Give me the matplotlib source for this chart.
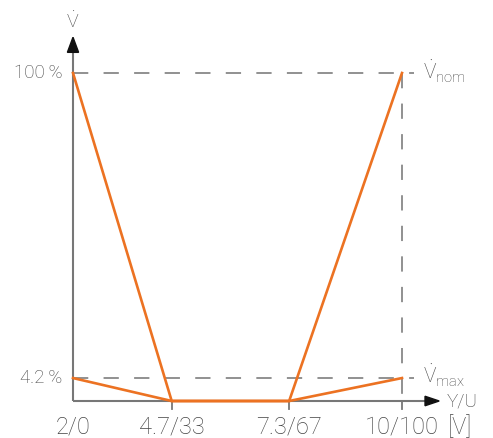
import matplotlib
matplotlib.use("Agg")
import matplotlib.pyplot as plt
from matplotlib.patches import Polygon

plt.rcParams['font.family'] = ['Roboto', 'DejaVu Sans']
plt.rcParams['lines.scale_dashes'] = False
plt.rcParams['mathtext.fontset'] = 'custom'
plt.rcParams['mathtext.rm'] = 'Roboto:light'
plt.rcParams['mathtext.it'] = 'Roboto:light'

# data
x_labels = ['2/0', '4.7/33', '7.3/67', '10/100']
x_pos = [0, 30, 65.7, 100]
nominal = [100, 0, 0, 100]
maximum = [7, 0, 0, 7]
y_tick_pos = [100, 7]
y_tick_labels = ['100\u2009%', '4.2\u2009%']

W, H = 493, 438
fig = plt.figure(figsize=(W / 100, H / 100), dpi=100)
ax = fig.add_axes([0, 0, 1, 1])
sx = 3.29
sy = 3.28
x0px, y0px = 73, 401  # pixel location of data origin (from top)
ax.set_xlim(-x0px / sx, (W - x0px) / sx)
ax.set_ylim(-(H - y0px) / sy, y0px / sy)
ax.axis('off')

gray = '#777777'
dgray = '#888888'
txt = '#444444'
orange = '#EC7222'

# dashed guide lines
ax.plot([0, 103.6], [100, 100], color=dgray, lw=1.3, dashes=(11, 11), zorder=1)
ax.plot([0, 103.6], [7, 7], color=dgray, lw=1.3, dashes=(11, 11), zorder=1)
ax.plot([100, 100], [100, 0], color=dgray, lw=1.3, dashes=(11, 11), zorder=1)

# axes lines
ax.plot([0, 0], [0, 106.5], color=gray, lw=1.5, zorder=2, solid_capstyle='butt')
ax.plot([0, 107.5], [0, 0], color=gray, lw=1.5, zorder=2, solid_capstyle='butt')
# ticks
for xp in x_pos[1:]:
    ax.plot([xp, xp], [0, -2.4], color=gray, lw=1.3, zorder=2)

# arrowheads
ax.add_patch(Polygon([[-1.7, 106.3], [1.7, 106.3], [0, 110.9]], closed=True,
                     color='#111111', zorder=3))
ax.add_patch(Polygon([[107.0, 1.45], [107.0, -1.45], [111.3, 0]], closed=True,
                     color='#111111', zorder=3))

# data lines
ax.plot(x_pos, nominal, color=orange, lw=1.9, zorder=4, solid_joinstyle='miter')
ax.plot(x_pos, maximum, color=orange, lw=1.9, zorder=4, solid_joinstyle='miter')

fs_big = 17
fs = 13.5
# tick labels
for xp, lab in zip(x_pos, x_labels):
    ax.text(xp, -7.9, lab, ha='center', va='center', fontsize=fs_big, color=txt,
            fontweight='light')
ax.text(117.5, -7.9, '[V]', ha='center', va='center', fontsize=fs_big, color=txt,
        fontweight='light')
for yp, lab in zip(y_tick_pos, y_tick_labels):
    ax.text(-3.3, yp, lab, ha='right', va='center', fontsize=fs, color=txt,
            fontweight='light')

# axis labels
ax.text(0, 113.7, r'$\dot{\mathrm{V}}$', ha='center', va='baseline',
        fontsize=14, color=txt)
ax.text(113.5, 0, 'Y/U', ha='left', va='center', fontsize=fs, color=txt,
        fontweight='light')
ax.text(106.3, 97.9, r'$\dot{\mathrm{V}}_{\mathrm{nom}}$', ha='left',
        va='baseline', fontsize=15, color=txt)
ax.text(106.3, 5.4, r'$\dot{\mathrm{V}}_{\mathrm{max}}$', ha='left',
        va='baseline', fontsize=15, color=txt)

fig.savefig('out.png', dpi=100)
